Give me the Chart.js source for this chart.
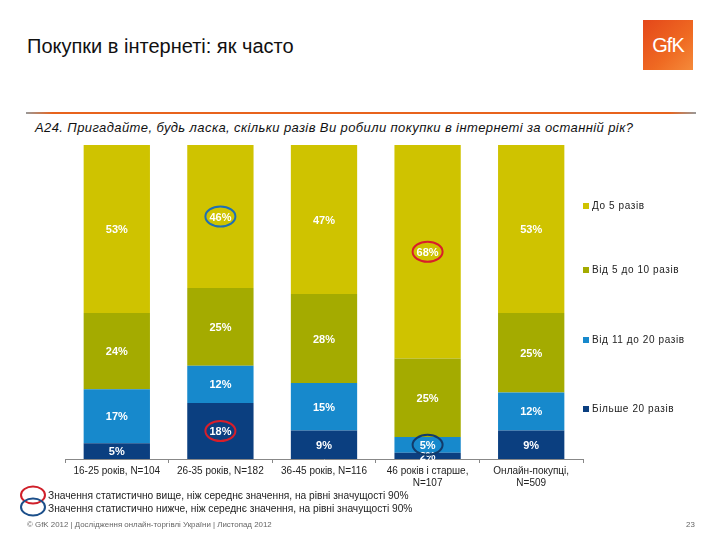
<!DOCTYPE html>
<html>
<head>
<meta charset="utf-8">
<script src="https://cdn.jsdelivr.net/npm/chart.js@4"></script>
<style>
  body { margin: 0; width: 720px; height: 540px; background: #fff; font-family: "Liberation Sans", Arial, sans-serif; position: relative; overflow: hidden; }
  .abs { position: absolute; white-space: nowrap; }
  #title { left: 27px; top: 35px; font-size: 20px; color: #111; }
  #rule { left: 26px; top: 112px; width: 670px; height: 2px; background: linear-gradient(to right, #999 0%, #e8631c 4%, #e8631c 96%, #999 100%); }
  #question { left: 35px; top: 120px; font-size: 13px; letter-spacing: 0.4px; font-style: italic; color: #111; }
  #logo { left: 643px; top: 20px; width: 50px; height: 50px; background: linear-gradient(135deg, #e4471a 0%, #ef6a22 60%, #f58a3a 100%); color: #fff; font-size: 20px; line-height: 50px; text-align: center; letter-spacing: -1px; }
  #chartBox { left: 45px; top: 135px; width: 560px; height: 370px; }
  .leg { font-size: 10px; letter-spacing: 0.6px; color: #222; }
  .leg span { display: inline-block; width: 6px; height: 6px; margin-right: 3px; vertical-align: 0px; }
  .note { font-size: 10.2px; color: #222; left: 48px; }
  #footer { left: 27px; top: 520px; font-size: 7.9px; color: #666; }
  #page { left: 686px; top: 520px; font-size: 7.9px; color: #666; }
</style>
</head>
<body>
<div class="abs" id="title">Покупки в інтернеті: як часто</div>
<div class="abs" id="rule"></div>
<div class="abs" id="question">A24. Пригадайте, будь ласка, скільки разів Ви робили покупки в інтернеті за останній рік?</div>
<div class="abs" id="logo">GfK</div>

<div class="abs" id="chartBox"><canvas id="chart"></canvas></div>
<div id="legend"></div>

<svg class="abs" style="left:16px;top:484px" width="34" height="34">
  <ellipse cx="17" cy="11" rx="12" ry="8.5" fill="none" stroke="#d0202a" stroke-width="2"/>
  <ellipse cx="17" cy="23" rx="12" ry="8.5" fill="none" stroke="#1c4f8a" stroke-width="2"/>
</svg>
<div class="abs note" style="top:490px">Значення статистично вище, ніж середнє значення, на рівні значущості 90%</div>
<div class="abs note" style="top:503px">Значення статистично нижче, ніж середнє значення, на рівні значущості 90%</div>
<div class="abs" id="footer">© GfK 2012 | Дослідження онлайн-торгівлі України | Листопад 2012</div>
<div class="abs" id="page">23</div>

<script>
// categories (x axis)
const groups = [
  ['16-25 років, N=104'],
  ['26-35 років, N=182'],
  ['36-45 років, N=116'],
  ['46 років і старше,', 'N=107'],
  ['Онлайн-покупці,', 'N=509']
];

// series, bottom to top
const seriesNames = ['Більше 20 разів', 'Від 11 до 20 разів', 'Від 5 до 10 разів', 'До 5 разів'];
const over20   = [5, 18, 9, 2, 9];
const from11   = [17, 12, 15, 5, 12];
const from5    = [24, 25, 28, 25, 25];
const upTo5    = [53, 46, 47, 68, 53];
const colors = ['#0b3f80', '#1789cc', '#a4ab00', '#cfc300'];

// significance marks: [series index, category index, 'high' | 'low']
const marks = [
  [3, 1, 'low'],
  [3, 3, 'high'],
  [0, 1, 'high'],
  [1, 3, 'low']
];

const allSeries = [over20, from11, from5, upTo5];
const totals = groups.map((g, i) => allSeries.reduce((s, arr) => s + arr[i], 0));

// HTML legend, top item first
const legendTops = [200, 264, 334, 403];
const legendEl = document.getElementById('legend');
seriesNames.slice().reverse().forEach((name, k) => {
  const c = colors[seriesNames.length - 1 - k];
  const d = document.createElement('div');
  d.className = 'abs leg';
  d.style.left = '583px';
  d.style.top = legendTops[k] + 'px';
  d.innerHTML = '<span style="background:' + c + '"></span>' + name;
  legendEl.appendChild(d);
});

// labels in the middle of every segment
const segmentLabels = {
  id: 'segmentLabels',
  afterDatasetsDraw(chart) {
    const ctx = chart.ctx;
    ctx.save();
    ctx.font = 'bold 11px "Liberation Sans", Arial, sans-serif';
    ctx.textAlign = 'center';
    ctx.textBaseline = 'middle';
    chart.data.datasets.forEach((ds, di) => {
      const meta = chart.getDatasetMeta(di);
      meta.data.forEach((el, i) => {
        const y = (el.y + el.base) / 2;
        ctx.fillStyle = '#ffffff';
        ctx.fillText(ds.raw[i] + '%', el.x, y + 1);
      });
    });
    // significance ellipses
    marks.forEach(m => {
      const el = chart.getDatasetMeta(m[0]).data[m[1]];
      const y = (el.y + el.base) / 2;
      ctx.beginPath();
      ctx.ellipse(el.x, y, 15, 10, 0, 0, Math.PI * 2);
      ctx.lineWidth = 2;
      ctx.strokeStyle = m[2] === 'high' ? '#d81e2a' : (m[0] === 3 ? '#1e6fb5' : '#123a6a');
      ctx.stroke();
    });
    ctx.restore();
  }
};

new Chart(document.getElementById('chart'), {
  type: 'bar',
  data: {
    labels: groups,
    datasets: allSeries.map((arr, k) => ({
      label: seriesNames[k],
      raw: arr,
      data: arr.map((v, i) => v / totals[i] * 100),
      backgroundColor: colors[k],
      borderWidth: 0,
      barPercentage: 0.64,
      categoryPercentage: 1
    }))
  },
  options: {
    responsive: true,
    maintainAspectRatio: false,
    animation: false,
    layout: { padding: { left: 20, right: 22, top: 10, bottom: 14 } },
    plugins: {
      legend: { display: false },
      tooltip: { enabled: false }
    },
    scales: {
      x: {
        stacked: true,
        grid: { drawOnChartArea: false, color: '#888', tickLength: 4 },
        border: { color: '#888' },
        ticks: {
          color: '#222',
          font: { size: 10, family: '"Liberation Sans", Arial, sans-serif' },
          maxRotation: 0,
          autoSkip: false,
          padding: 2
        }
      },
      y: {
        stacked: true,
        display: false,
        min: 0,
        max: 100
      }
    }
  },
  plugins: [segmentLabels]
});
</script>
</body>
</html>
